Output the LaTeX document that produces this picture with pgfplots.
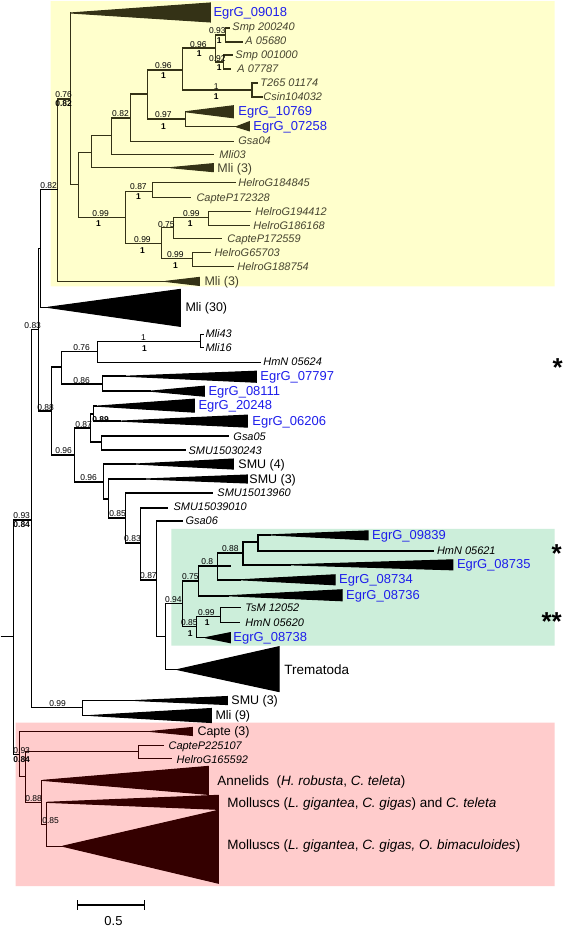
\documentclass[border=0pt]{standalone}
\usepackage{fontspec}
\setmainfont{Liberation Sans}
\usepackage{pgfplots}
\pgfplotsset{compat=1.18}
\definecolor{egr}{RGB}{30,30,235}
\definecolor{ybox}{RGB}{255,255,204}
\definecolor{gbox}{RGB}{204,238,218}
\definecolor{pbox}{RGB}{255,204,204}
\definecolor{yl}{RGB}{52,50,22}
\definecolor{pl}{RGB}{52,0,0}
\definecolor{yt}{RGB}{70,68,48}
% bracket: [colour]{node x}{y1}{x1}{y2}{x2}
\newcommand{\br}[6][black]{\addplot[line width=1.5pt,color=#1,mark=none,line cap=rect] coordinates {(#4,#3) (#2,#3) (#2,#5) (#6,#5)};}
% triangle: [colour]{apex x}{apex y}{right x}{top y}{bottom y}
\newcommand{\tri}[6][black]{\addplot[fill=#1,draw=#1,line width=1.1pt,mark=none] coordinates {(#2,#3) (#4,#5) (#4,#6) (#2,#3)};}
\newcommand{\tb}[3]{\node[anchor=base west,inner sep=0pt,yshift=-4.6pt,text=egr,font=\fontsize{13}{15}\selectfont] at (axis cs:#1,#2) {#3};}
\newcommand{\ti}[4][black]{\node[anchor=base west,inner sep=0pt,yshift=-4pt,text=#1,font=\fontsize{11}{13}\selectfont\itshape] at (axis cs:#2,#3) {#4};}
\newcommand{\tr}[4][black]{\node[anchor=base west,inner sep=0pt,yshift=-4.4pt,text=#1,font=\fontsize{12.5}{14}\selectfont] at (axis cs:#2,#3) {#4};}
\newcommand{\tl}[3]{\node[anchor=base west,inner sep=0pt,yshift=-4.8pt,text=black,font=\fontsize{13.5}{15}\selectfont] at (axis cs:#1,#2) {#3};}
\newcommand{\sv}[3]{\node[inner sep=0pt,font=\fontsize{8.5}{10}\selectfont] at (axis cs:#1,#2) {#3};}
\newcommand{\svb}[3]{\node[inner sep=0pt,font=\fontsize{8.5}{10}\selectfont\bfseries] at (axis cs:#1,#2) {#3};}
\begin{document}
\begin{tikzpicture}
\begin{axis}[
  width=567pt, height=929pt, scale only axis,
  xmin=0, xmax=567, ymin=0, ymax=929, y dir=reverse,
  hide axis, clip=false,
]
% background and boxes
\addplot[draw=none,fill=white] coordinates {(0,0)(567,0)(567,929)(0,929)(0,0)};
\addplot[draw=none,fill=ybox] coordinates {(50,1)(555,1)(555,287)(50,287)(50,1)};
\addplot[draw=none,fill=gbox] coordinates {(171,530)(555,530)(555,647)(171,647)(171,530)};
\addplot[draw=none,fill=pbox] coordinates {(15,724)(555,724)(555,888)(15,888)(15,724)};

% ---------- yellow clade ----------
\br[yl]{57}{99}{70}{282}{165}
\br[yl]{70}{13}{70}{185}{78}
\br[yl]{78}{153}{91}{218}{125}
\br[yl]{91}{136}{111}{168}{170}
\br[yl]{111}{118}{130}{155}{213}
\br[yl]{130}{94}{147}{142}{233}
\br[yl]{147}{70}{182}{119}{185}
\br[yl]{182}{48}{215}{90}{252}
\br[yl]{215}{35}{225}{62}{223}
\br[yl]{225}{28}{229}{42}{242}
\br[yl]{223}{55}{232}{69}{230}
\br[yl]{252}{83}{257}{97}{262}
\br[yl]{185}{112}{185}{127}{236}
\br[yl]{125}{192}{152}{244}{161}
\br[yl]{152}{183}{235}{198}{190}
\br[yl]{161}{228}{173}{259}{192}
\br[yl]{173}{218}{208}{239}{221}
\br[yl]{208}{212}{250}{226}{249}
\br[yl]{192}{253}{210}{267}{233}
\tri[yl]{70}{13}{210}{3}{22}
\tri[yl]{185}{112}{233}{106}{118}
\tri[yl]{236}{127}{249}{122}{131}
\tri[yl]{170}{168}{213}{164}{172}
\tri[yl]{165}{282}{199}{278}{286}

% ---------- middle ----------
\br{40}{190}{57}{308}{47}
\br{38}{249}{40}{412}{51}
\br{31}{330}{38}{709}{82}
\br{13}{521}{31}{756}{19}
\addplot[line width=1.5pt,mark=none] coordinates {(0,638)(13,638)};
\br{51}{368}{61}{456}{74}
\br{61}{352}{97}{385}{102}
\br{97}{342}{200}{363}{260}
\br{200}{335}{203}{348}{203}
\br{102}{377}{125}{392}{150}
\br{74}{429}{90}{483}{103}
\br{90}{415}{93}{443}{101}
\br{93}{407}{96}{422}{120}
\br{101}{437}{228}{451}{185}
\br{103}{465}{135}{500}{108}
\br{108}{480}{145}{519}{125}
\br{125}{494}{212}{544}{140}
\br{140}{509}{167}{581}{156}
\br{156}{522}{182}{638}{165}
\br{165}{605}{182}{671}{177}
\br{182}{582}{198}{628}{196}
\br{198}{567}{230}{597}{228}
\br{217}{554}{243}{581}{240}
\br{243}{543}{258}{566}{290}
\br{258}{536}{270}{552}{433}
\br{196}{618}{220}{639}{205}
\br{220}{609}{240}{624}{239}
\br{82}{702}{135}{717}{90}
\tri{47}{308}{180}{290}{327}
\tri{125}{377}{256}{372}{383}
\tri{150}{392}{204}{387}{397}
\tri{96}{407}{194}{400}{413}
\tri{120}{422}{247}{416}{428}
\tri{135}{465}{233}{460}{470}
\tri{145}{480}{247}{476}{484}
\tri{270}{536}{368}{532}{541}
\tri{290}{566}{453}{561}{571}
\tri{240}{581}{335}{576}{586}
\tri{228}{597}{342}{591}{602}
\tri{205}{639}{230}{634}{644}
\tri{177}{671}{279}{648}{693}
\tri{135}{702}{227}{698}{706}
\tri{90}{717}{211}{710}{724}

% ---------- pink clade ----------
\br[pl]{19}{733}{150}{778}{25}
\br[pl]{25}{753}{138}{804}{41}
\br[pl]{138}{747}{163}{760}{171}
\br[pl]{41}{782}{42}{826}{46}
\br[pl]{46}{804}{46}{848}{62}
\tri[pl]{150}{733}{192}{729}{737}
\tri[pl]{42}{782}{208}{768}{796}
\tri[pl]{46}{804}{218}{797}{811}
\tri[pl]{62}{848}{218}{812}{885}

% scale bar
\addplot[line width=1.5pt,mark=none] coordinates {(77,907)(144,907)};
\addplot[line width=1.5pt,mark=none] coordinates {(77,902)(77,912)};
\addplot[line width=1.5pt,mark=none] coordinates {(144,902)(144,912)};
\node[font=\fontsize{13}{15}\selectfont] at (axis cs:113,923) {0.5};

% ---------- tip labels ----------
\tb{213}{12}{EgrG\_09018}
\ti[yt]{232}{27}{Smp 200240}
\ti[yt]{245}{41}{A 05680}
\ti[yt]{235}{55}{Smp 001000}
\ti[yt]{237}{69}{A 07787}
\ti[yt]{260}{83}{T265 01174}
\ti[yt]{263}{97}{Csin104032}
\tb{238}{111}{EgrG\_10769}
\tb{253}{126}{EgrG\_07258}
\ti[yt]{238}{141}{Gsa04}
\ti[yt]{219}{155}{Mli03}
\tr[yt]{217}{168}{Mli (3)}
\ti[yt]{238}{183}{HelroG184845}
\ti[yt]{196}{198}{CapteP172328}
\ti[yt]{255}{212}{HelroG194412}
\ti[yt]{253}{226}{HelroG186168}
\ti[yt]{227}{239}{CapteP172559}
\ti[yt]{214}{253}{HelroG65703}
\ti[yt]{237}{267}{HelroG188754}
\tr[yt]{204}{282}{Mli (3)}
\tr{185}{308}{Mli (30)}
\ti{205}{334}{Mli43}
\ti{205}{348}{Mli16}
\ti{263}{362}{HmN 05624}
\tb{260}{377}{EgrG\_07797}
\tb{208}{392}{EgrG\_08111}
\tb{198}{406}{EgrG\_20248}
\tb{252}{422}{EgrG\_06206}
\ti{233}{437}{Gsa05}
\ti{188}{451}{SMU15030243}
\tr{238}{465}{SMU (4)}
\tr{249}{480}{SMU (3)}
\ti{217}{494}{SMU15013960}
\ti{173}{508}{SMU15039010}
\ti{185}{522}{Gsa06}
\tb{372}{536}{EgrG\_09839}
\ti{437}{552}{HmN 05621}
\tb{457}{565}{EgrG\_08735}
\tb{339}{580}{EgrG\_08734}
\tb{346}{596}{EgrG\_08736}
\ti{245}{609}{TsM 12052}
\ti{245}{624}{HmN 05620}
\tb{233}{638}{EgrG\_08738}
\tl{284}{671}{Trematoda}
\tr{231}{702}{SMU (3)}
\tr{215}{717}{Mli (9)}
\tr{197}{733}{Capte (3)}
\ti{168}{747}{CapteP225107}
\ti{176}{761}{HelroG165592}
\tl{217}{782}{Annelids \ (\textit{H. robusta}, \textit{C. teleta})}
\tl{227}{804}{Molluscs (\textit{L. gigantea}, \textit{C. gigas}) and \textit{C. teleta}}
\tl{227}{846}{Molluscs (\textit{L. gigantea}, \textit{C. gigas, O. bimaculoides})}
% asterisks
\node[font=\fontsize{26}{28}\selectfont\bfseries] at (axis cs:558,368) {*};
\node[font=\fontsize{26}{28}\selectfont\bfseries] at (axis cs:557,555) {*};
\node[font=\fontsize{26}{28}\selectfont\bfseries] at (axis cs:552,623) {**};

% ---------- support values ----------
\sv{217}{31}{0.93}  \svb{219}{41}{1}
\sv{198}{45}{0.96}  \svb{199}{54}{1}
\sv{217}{59}{0.92}  \svb{219}{68}{1}
\sv{216}{87}{1}     \svb{216}{97}{1}
\sv{163}{66}{0.96}  \svb{163}{76}{1}
\sv{163}{115}{0.97} \svb{163}{127}{1}
\sv{120}{114}{0.82}
\sv{63}{95}{0.76}   \svb{63}{104}{0.82}
\sv{138}{187}{0.87} \svb{138}{197}{1}
\sv{100}{214}{0.99} \svb{98}{224}{1}
\sv{142}{240}{0.99} \svb{142}{251}{1}
\sv{166}{225}{0.75}
\sv{191}{214}{0.99} \svb{190}{224}{1}
\sv{175}{255}{0.99} \svb{175}{266}{1}
\sv{48}{186}{0.82}
\sv{32}{326}{0.83}
\sv{143}{338}{1}    \svb{144}{349}{1}
\sv{81}{348}{0.76}
\sv{81}{381}{0.86}
\sv{45}{408}{0.88}
\sv{83}{425}{0.87}
\svb{100}{420}{0.89}
\sv{63}{452}{0.96}
\sv{88}{479}{0.96}
\sv{117}{515}{0.85}
\sv{132}{540}{0.83}
\sv{148}{577}{0.87}
\sv{173}{601}{0.94}
\sv{230}{550}{0.88}
\sv{207}{563}{0.8}
\sv{190}{578}{0.75}
\sv{206}{614}{0.99}  \svb{207}{624}{1}
\sv{189}{624}{0.85}  \svb{190}{635}{1}
\sv{57}{705}{0.99}
\sv{21}{517}{0.93}   \svb{21}{526}{0.84}
\sv{21}{752}{0.93}   \svb{21}{761}{0.84}
\sv{33}{800}{0.88}
\sv{50}{822}{0.85}
\end{axis}
\end{tikzpicture}
\end{document}
